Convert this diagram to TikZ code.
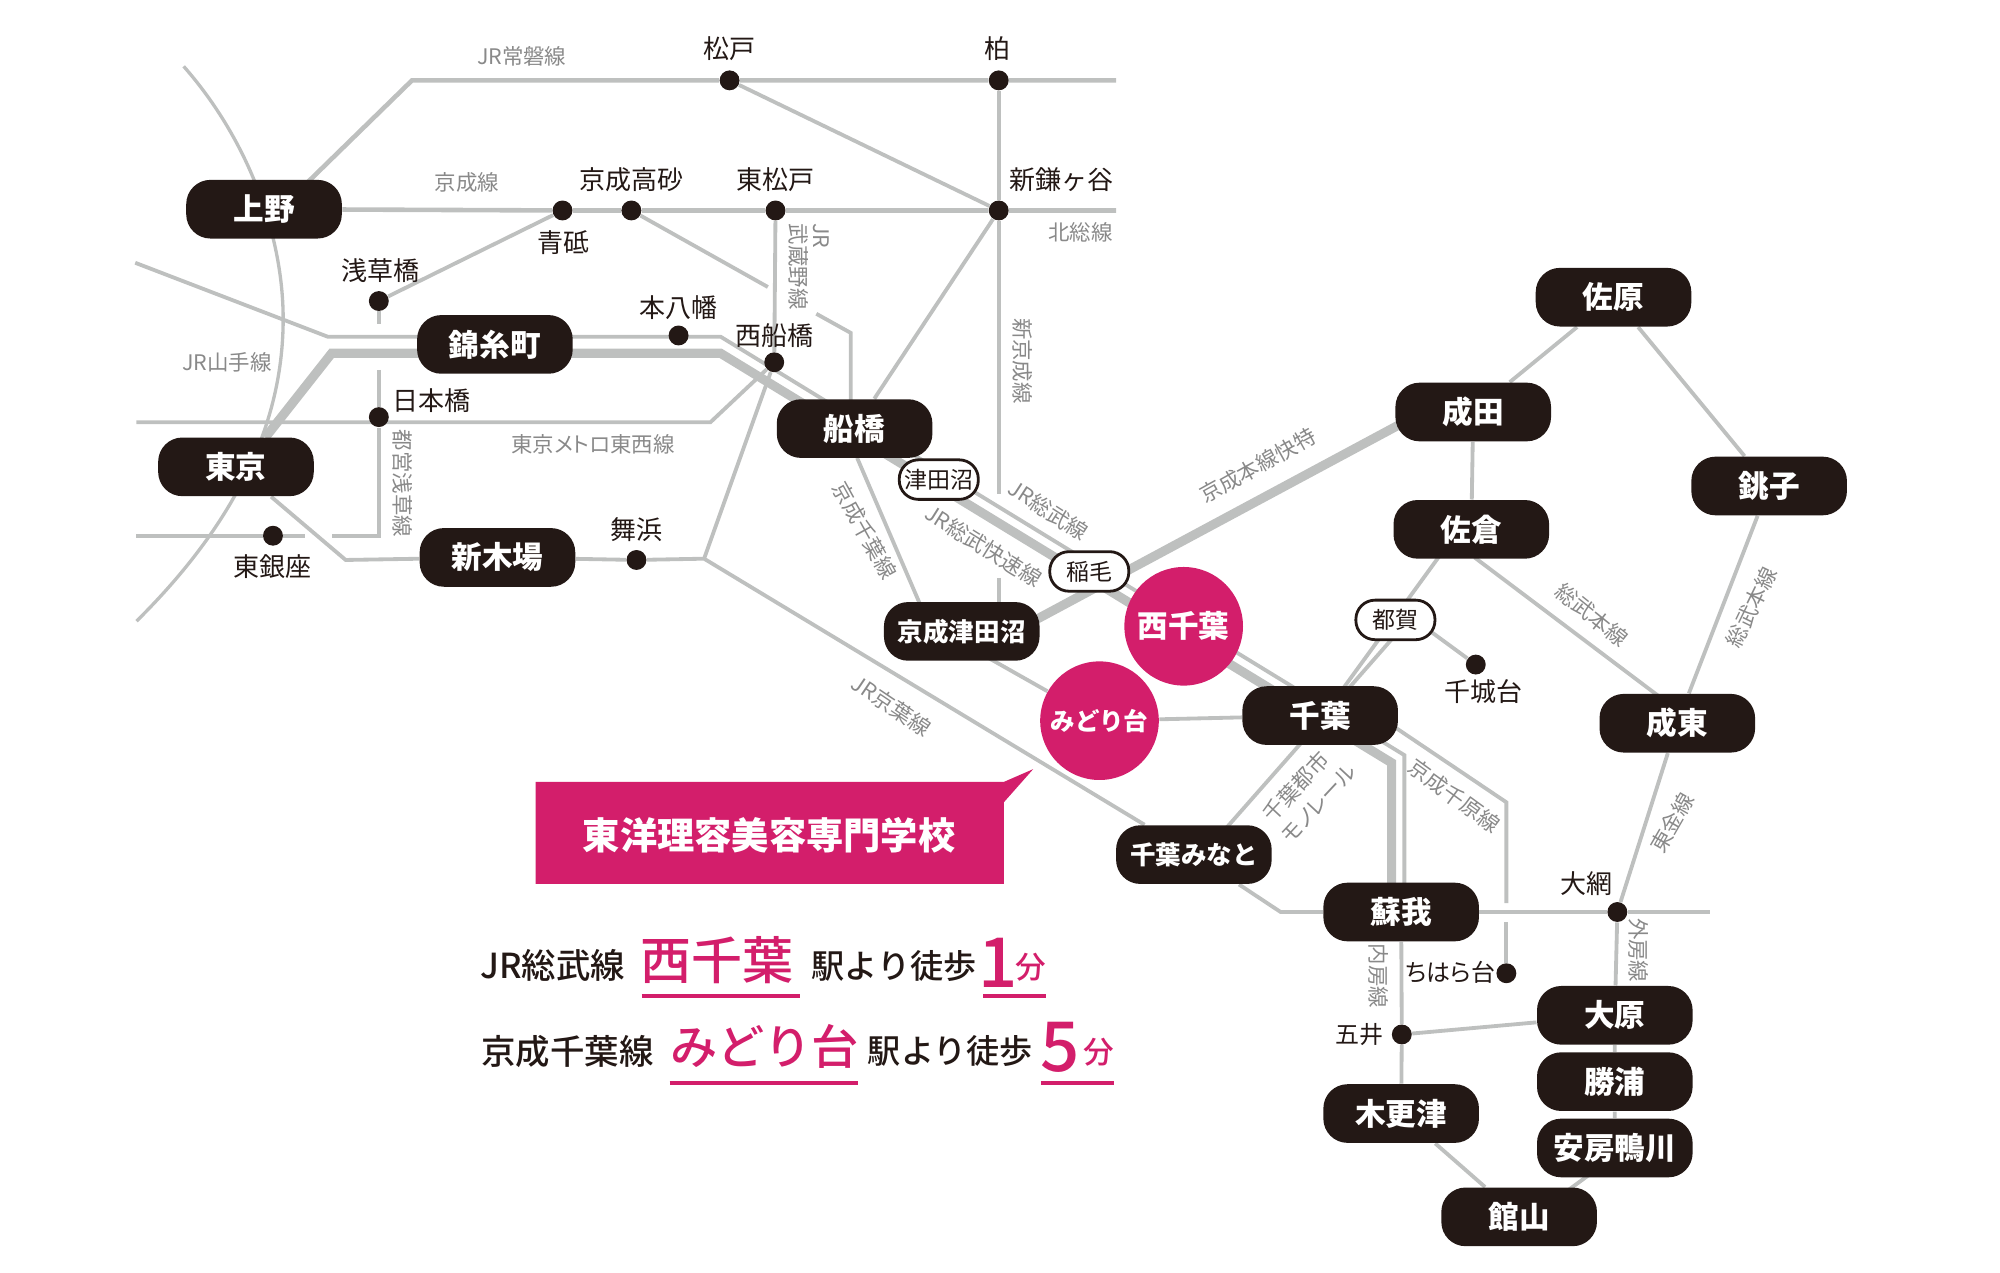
\documentclass[tikz,border=0pt]{standalone}
\usepackage{fontspec}
\setmainfont{Noto Sans CJK JP}
\newfontfamily\jpmedium{Noto Sans CJK JP Medium}
\newfontfamily\jpprop{Noto Sans CJK JP}[RawFeature=+palt]
\usetikzlibrary{backgrounds}
\definecolor{pillblack}{HTML}{231815}
\definecolor{schoolpink}{HTML}{D31E6B}
\definecolor{railgrey}{HTML}{BEC0BF}
\definecolor{linegrey}{HTML}{898989}
\tikzset{
	pill/.style={rectangle,rounded corners=9.5pt,fill=pillblack,text=white,minimum width=61pt,minimum height=23pt,inner sep=0pt,font=\fontsize{12}{14}\selectfont\bfseries},
	smallpill/.style={pill,font=\fontsize{10}{12}\selectfont\bfseries},
	stoppill/.style={rectangle,rounded corners=7.5pt,draw=pillblack,line width=1.1pt,fill=white,text=pillblack,minimum width=31pt,minimum height=15.5pt,inner sep=0pt,font=\fontsize{9}{11}\selectfont},
	school/.style={circle,fill=schoolpink,text=white,minimum size=46.5pt,inner sep=0pt,font=\fontsize{12}{14}\selectfont\bfseries},
	dot/.style={circle,fill=pillblack,minimum size=7.8pt,inner sep=0pt},
	stationname/.style={text=pillblack,inner sep=0pt,font=\fontsize{10.2}{12}\selectfont},
	linename/.style={text=linegrey,inner sep=0pt,font=\fontsize{8.4}{10}\jpprop\selectfont},
	rail/.style={draw=railgrey,line width=1.5pt,line join=miter},
	fastrail/.style={draw=railgrey,line width=3.6pt,line join=miter},
	access/.style={text=pillblack,inner sep=0pt,anchor=west,font=\fontsize{13.5}{15}\jpmedium\selectfont},
	accesspink/.style={text=schoolpink,inner sep=0pt,anchor=west},
	underline/.style={draw=schoolpink,line width=1.4pt}
}
\begin{document}
\begin{tikzpicture}[x=0.5pt,y=-0.5pt]
	\useasboundingbox (0,0) rectangle (1568,998);
	
	% pills
	\node[pill] (ueno) at (207,164) {上野};
	\node[pill] (tokyo) at (185,366) {東京};
	\node[pill] (kinshicho) at (388,270) {錦糸町};
	\node[pill] (shinkiba) at (390,437) {新木場};
	\node[pill] (funabashi) at (670,336) {船橋};
	\node[smallpill] (ktsudanuma) at (754,495) {京成津田沼};
	\node[pill] (chiba) at (1035,561) {千葉};
	\node[smallpill] (chibaminato) at (936,670) {千葉みなと};
	\node[pill] (soga) at (1098.5,715) {蘇我};
	\node[pill] (kisarazu) at (1098.5,873) {木更津};
	\node[pill] (tateyama) at (1191,954) {館山};
	\node[pill] (ohara) at (1266,796) {大原};
	\node[pill] (katsuura) at (1266,848) {勝浦};
	\node[pill] (kamogawa) at (1266,900) {安房鴨川};
	\node[pill] (naruto) at (1315,567) {成東};
	\node[pill] (sawara) at (1265,233) {佐原};
	\node[pill] (choshi) at (1387,381) {銚子};
	\node[pill] (narita) at (1155,323) {成田};
	\node[pill] (sakura) at (1153.5,415) {佐倉};
	
	\node[stoppill] (tsudanuma) at (736,376) {津田沼};
	\node[stoppill] (inage) at (854,448) {稲毛};
	\node[stoppill] (tsuga) at (1094,486) {都賀};
	
	\node[school] (nishichiba) at (928,491) {西千葉};
	\node[school,font=\fontsize{9.6}{12}\selectfont\bfseries] (midoridai) at (862,565) {みどり台};
	
	% stations
	\node[dot] (matsudo) at (572,63) {};
	\node[dot] (kashiwa) at (783,63) {};
	\node[dot] (aoto) at (441,165) {};
	\node[dot] (takasago) at (495,165) {};
	\node[dot] (hmatsudo) at (608,165) {};
	\node[dot] (kamagaya) at (783,165) {};
	\node[dot] (asakusabashi) at (297,236) {};
	\node[dot] (motoyawata) at (532,263) {};
	\node[dot] (nfunabashi) at (607,284) {};
	\node[dot] (nihonbashi) at (297,327) {};
	\node[dot] (higashiginza) at (214,420) {};
	\node[dot] (maihama) at (499,439) {};
	\node[dot] (chishirodai) at (1157,521) {};
	\node[dot] (oami) at (1268,715) {};
	\node[dot] (chiharadai) at (1181,763) {};
	\node[dot] (goi) at (1099,811) {};
	
	\node[stationname] (matsudoname) at (572,38) {松戸};
	\node[stationname] (kashiwaname) at (782,38) {柏};
	\node[stationname] (kamagayaname) at (832,141) {新鎌ヶ谷};
	\node[stationname] (takasagoname) at (495,141) {京成高砂};
	\node[stationname] (hmatsudoname) at (608,141) {東松戸};
	\node[stationname] (aotoname) at (442,190) {青砥};
	\node[stationname] (asakusabashiname) at (298,212) {浅草橋};
	\node[stationname] (motoyawataname) at (532,241) {本八幡};
	\node[stationname] (nfunabashiname) at (607,263) {西船橋};
	\node[stationname] (nihonbashiname) at (338,314) {日本橋};
	\node[stationname] (higashiginzaname) at (214,444) {東銀座};
	\node[stationname] (maihamaname) at (499,415) {舞浜};
	\node[stationname] (chishirodainame) at (1163,542) {千城台};
	\node[stationname] (oaminame) at (1244,693) {大網};
	\node[stationname,font=\fontsize{9.4}{12}\jpprop\selectfont] (chiharadainame) at (1137,762) {ちはら台};
	\node[stationname,font=\fontsize{9.4}{12}\selectfont] (goiname) at (1066,811) {五井};
	
	% line names
	\node[linename] (jobanname) at (409,44) {JR常磐線};
	\node[linename] (keiseiname) at (366,143) {京成線};
	\node[linename] (yamanotename) at (178,284) {JR山手線};
	\node[linename,rotate=-90] (jrname) at (644,185) {JR};
	\node[linename,rotate=-90] (musashinoname) at (626,209) {武蔵野線};
	\node[linename] (hokusoname) at (847,182) {北総線};
	\node[linename,rotate=-90] (shinkeiseiname) at (802,283) {新京成線};
	\node[linename] (tozainame) at (465,348) {東京メトロ東西線};
	\node[linename,rotate=-90] (asakusaname) at (316,379) {都営浅草線};
	\node[linename,rotate=-61] (kchibaname) at (678,416) {京成千葉線};
	\node[linename,rotate=-33] (sobuname) at (822,400) {JR総武線};
	\node[linename,rotate=-32] (sobufastname) at (771,428) {JR総武快速線};
	\node[linename,rotate=29] (kaitokuname) at (986,365) {京成本線快特};
	\node[linename,rotate=-39] (sobuhonname) at (1248,482) {総武本線};
	\node[linename,rotate=64] (sobuhonrname) at (1373,476) {総武本線};
	\node[linename,rotate=60] (togane) at (1311,645) {東金線};
	\node[linename,rotate=-34] (keiyoname) at (699,553) {JR京葉線};
	\node[linename,rotate=47] (monoaname) at (1016,617) {千葉都市};
	\node[linename,rotate=47] (monobname) at (1034,630) {モノレール};
	\node[linename,rotate=-36] (chiharaname) at (1140,624) {京成千原線};
	\node[linename,rotate=-90] (uchiboname) at (1081,765) {内房線};
	\node[linename,rotate=-90] (sotoboname) at (1285,745) {外房線};
	
	% free ends and bends
	\coordinate (jobanin) at (238,146);
	\coordinate (jobanbend) at (323,63);
	\coordinate (jobanend) at (875,63);
	\coordinate (keiseiend) at (875,165);
	\coordinate (keiseigapa) at (602,225);
	\coordinate (keiseigapb) at (640,246);
	\coordinate (keiseibend) at (667,261);
	\coordinate (keiseiin) at (667,330);
	\coordinate (shinkeisei) at (783,387);
	\coordinate (shinkeiseib) at (783,453);
	\coordinate (shinkeiseic) at (783,480);
	\coordinate (sobustart) at (106,206);
	\coordinate (sobubend) at (257,264);
	\coordinate (soburun) at (565,264);
	\coordinate (sobudown) at (1101,592);
	\coordinate (sobuin) at (1101,700);
	\coordinate (fastin) at (208,343);
	\coordinate (fastbend) at (260,277);
	\coordinate (fastrun) at (565,277);
	\coordinate (fastdown) at (1091,598);
	\coordinate (fastend) at (1091,700);
	\coordinate (tozaistart) at (107,331);
	\coordinate (tozaibend) at (557,331);
	\coordinate (asakusagap) at (297,254);
	\coordinate (asakusagapb) at (297,290);
	\coordinate (asakusacorner) at (297,420);
	\coordinate (asakusaend) at (260,420);
	\coordinate (asakusaleft) at (239,420);
	\coordinate (ginzastart) at (107,420);
	\coordinate (shinkibabend) at (271,439);
	\coordinate (keiyobend) at (552,438);
	\coordinate (chibalinea) at (672,359);
	\coordinate (chibalineb) at (724,480);
	\coordinate (chibalinec) at (770,513);
	\coordinate (kaitokua) at (810,487);
	\coordinate (kaitokub) at (1110,326);
	\coordinate (sakuraout) at (1156,437);
	\coordinate (narutoin) at (1310,553);
	\coordinate (tsugain) at (1107,483);
	\coordinate (tsugaout) at (1112,488);
	\coordinate (sakuraoutb) at (1135,427);
	\coordinate (chibainb) at (1031,570);
	\coordinate (chibainc) at (1050,548);
	\coordinate (monoin) at (1039,561);
	\coordinate (monoout) at (943,670);
	\coordinate (chiharaa) at (1080,561);
	\coordinate (chiharab) at (1181,629);
	\coordinate (chiharac) at (1181,708);
	\coordinate (chiharad) at (1181,723);
	\coordinate (minatobend) at (1004,715);
	\coordinate (oamiend) at (1341,715);
	\coordinate (kamogawaout) at (1250,918);
	\coordinate (tateyamain) at (1220,940);
	
	\begin{pgfonlayer}{background}
		% Yamanote
		\draw[rail,line width=1.3pt] (144,52) .. controls (195,110) and (222,185) .. (222,250) .. controls (222,320) and (195,400) .. (107,487);
		
		\draw[rail,line width=1.8pt] (jobanin) -- (jobanbend) -- (matsudo) -- (kashiwa) -- (jobanend);
		\draw[rail,line width=1.8pt] (ueno) -- (aoto) -- (takasago) -- (hmatsudo) -- (kamagaya) -- (keiseiend);
		\draw[rail] (aoto) -- (asakusabashi);
		\draw[rail] (takasago) -- (keiseigapa);
		\draw[rail] (keiseigapb) -- (keiseibend) -- (keiseiin);
		\draw[rail] (matsudo) -- (kamagaya);
		\draw[rail] (kashiwa) -- (kamagaya) -- (shinkeisei);
		\draw[rail] (shinkeiseib) -- (shinkeiseic);
		\draw[rail] (kamagaya) -- (funabashi);
		\draw[rail] (hmatsudo) -- (nfunabashi) -- (keiyobend);
		
		\draw[rail] (sobustart) -- (sobubend) -- (soburun) -- (sobudown) -- (sobuin);
		\draw[fastrail] (fastin) -- (fastbend) -- (fastrun) -- (fastdown) -- (fastend);
		\draw[rail] (tozaistart) -- (tozaibend) -- (nfunabashi);
		
		\draw[rail] (asakusabashi) -- (asakusagap);
		\draw[rail] (asakusagapb) -- (nihonbashi) -- (asakusacorner) -- (asakusaend);
		\draw[rail] (ginzastart) -- (higashiginza) -- (asakusaleft);
		\draw[rail] (tokyo) -- (shinkibabend) -- (shinkiba);
		\draw[rail] (shinkiba) -- (maihama) -- (keiyobend) -- (chibaminato);
		\draw[rail] (chibaminato) -- (minatobend) -- (soga);
		
		\draw[rail] (chibalinea) -- (chibalineb);
		\draw[rail] (chibalinec) -- (midoridai);
		\draw[rail] (midoridai) -- (chiba);
		\draw[fastrail] (kaitokua) -- (kaitokub);
		
		\draw[rail] (narita) -- (sakura);
		\draw[rail] (narita) -- (sawara);
		\draw[rail] (sawara) -- (choshi);
		\draw[rail] (choshi) -- (naruto);
		\draw[rail] (sakuraout) -- (narutoin);
		\draw[rail] (sakuraoutb) -- (chibainb);
		\draw[rail] (tsugain) -- (chibainc);
		\draw[rail] (tsugaout) -- (chishirodai);
		\draw[rail] (monoin) -- (monoout);
		\draw[rail] (chiharaa) -- (chiharab) -- (chiharac);
		\draw[rail] (chiharad) -- (chiharadai);
		\draw[rail] (soga) -- (oami) -- (oamiend);
		\draw[rail] (soga) -- (goi) -- (kisarazu);
		\draw[rail] (goi) -- (ohara);
		\draw[rail] (oami) -- (ohara) -- (katsuura) -- (kamogawa);
		\draw[rail] (oami) -- (naruto);
		\draw[rail] (kisarazu) -- (tateyama);
		\draw[rail] (kamogawaout) -- (tateyamain);
	\end{pgfonlayer}
	
	% school banner
	\fill[schoolpink] (420,613) -- (787,613) -- (810,603) -- (787,629) -- (787,693) -- (420,693) -- cycle;
	\node[text=white,inner sep=0pt,font=\fontsize{14.6}{17}\selectfont\bfseries] (schoolname) at (603,655) {東洋理容美容専門学校};
	
	% access text
	\node[access] (jrsobu) at (376,757) {JR総武線};
	\node[accesspink,font=\fontsize{20}{24}\jpmedium\selectfont] (nishichibabig) at (502,753) {西千葉};
	\node[access,font=\fontsize{13}{15}\jpmedium\selectfont] (walka) at (636,757) {駅より徒歩};
	\node[accesspink,font=\fontsize{27}{30}\jpmedium\selectfont] (onemin) at (767,755) {1};
	\node[accesspink,font=\fontsize{12}{14}\jpmedium\selectfont] (onefun) at (796,758) {分};
	\draw[underline] (503,781) -- (627,781);
	\draw[underline] (771,781) -- (820,781);
	
	\node[access] (keiseichiba) at (377,824) {京成千葉線};
	\node[accesspink,font=\fontsize{18.5}{22}\jpmedium\selectfont] (midoribig) at (525,820) {みどり台};
	\node[access,font=\fontsize{13}{15}\jpmedium\selectfont] (walkb) at (680,824) {駅より徒歩};
	\node[accesspink,font=\fontsize{27}{30}\jpmedium\selectfont] (fivemin) at (815.5,821) {5};
	\node[accesspink,font=\fontsize{12}{14}\jpmedium\selectfont] (fivefun) at (849,825) {分};
	\draw[underline] (525,849) -- (673,849);
	\draw[underline] (816,849) -- (873,849);
\end{tikzpicture}
\end{document}
